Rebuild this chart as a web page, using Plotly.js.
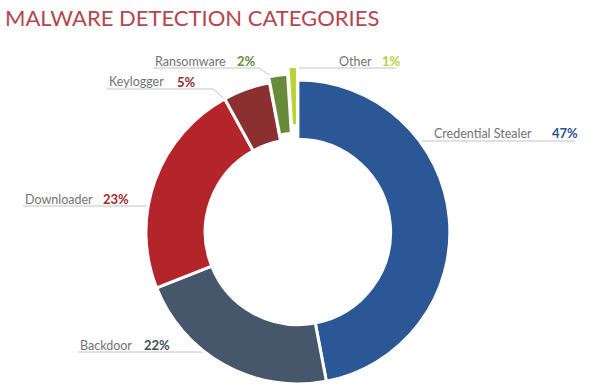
<!DOCTYPE html>
<html><head><meta charset="utf-8">
<script src="https://cdn.plot.ly/plotly-3.0.1.min.js"></script>
<style>html,body{margin:0;padding:0;background:#fff;overflow:hidden;width:600px;height:390px}#chart{width:600px;height:420px}</style>
</head><body><div id="chart"></div>
<script>
var categories = ['Credential Stealer', 'Backdoor', 'Downloader', 'Keylogger', 'Ransomware', 'Other'];
var percents = [47, 22, 23, 5, 2, 1];
var pctLabels = ['47%', '22%', '23%', '5%', '2%', '1%'];

var sliceColors = ['#2b5797', '#46566b', '#b3242b', '#8c2f30', '#6a8a3b', '#b9d437'];
var pctColors = ['#2d5290', '#434c5c', '#a8282e', '#8c2f30', '#6a8a3b', '#b5d13a'];
var pulls = [0, 0, 0, 0, 0.04, 0.09];

var W = 600, H = 420;
function px(x){ return x / W; }
function py(y){ return 1 - y / H; }

var labelPos = [
  {nx: 432, ny: 133, tx: 550, line: [[408,141],[574,141]]},
  {nx: 78, ny: 345, tx: 142, line: [[78,352],[208,352]]},
  {nx: 23, ny: 199, tx: 101, line: [[23,206],[148,206]]},
  {nx: 107, ny: 82, tx: 175, line: [[107,89],[213,89],[226,100]]},
  {nx: 153, ny: 61, tx: 235, line: [[153,68],[259,68],[271,76]]},
  {nx: 337, ny: 61, tx: 380, line: [[296,68],[396,68]]}
];

var annotations = [];
var shapes = [];
categories.forEach(function(c, i){
  var p = labelPos[i];
  annotations.push({text: c, xref:'paper', yref:'paper', x: px(p.nx), y: py(p.ny),
    xanchor:'left', yanchor:'middle', showarrow:false,
    font:{family:'Lato, sans-serif', size:12.5, color:'#727272'}});
  annotations.push({text: '<b>' + pctLabels[i] + '</b>', xref:'paper', yref:'paper', x: px(p.tx), y: py(p.ny),
    xanchor:'left', yanchor:'middle', showarrow:false,
    font:{family:'Lato, sans-serif', size:13, color:pctColors[i]}});
  var path = p.line.map(function(pt, k){ return (k ? 'L' : 'M') + px(pt[0]) + ',' + py(pt[1]); }).join(' ');
  shapes.push({type:'path', xref:'paper', yref:'paper', path: path,
    line:{color:'#c3c3cb', width:1}, layer:'below'});
});

var trace = {
  type: 'pie',
  labels: categories,
  values: percents,
  sort: false,
  direction: 'clockwise',
  rotation: 0,
  hole: 0.61,
  pull: pulls,
  textinfo: 'none',
  hoverinfo: 'label+percent',
  marker: {colors: sliceColors, line: {color: '#ffffff', width: 3}},
  domain: {x: [0.21, 0.783], y: [0.0533, 0.8420]},
  showlegend: false
};

var layout = {
  width: W, height: H,
  margin: {l:0, r:0, t:0, b:0},
  paper_bgcolor: '#ffffff',
  title: {text: 'MALWARE DETECTION CATEGORIES', x: 5/W, xanchor: 'left', xref:'container',
    y: 1 - 18/H, yanchor: 'middle', yref:'container',
    font: {family: 'Lato, sans-serif', size: 22, color: '#b3464f'}},
  annotations: annotations,
  shapes: shapes,
  showlegend: false
};

Plotly.newPlot('chart', [trace], layout, {displayModeBar: false, staticPlot: true});
</script></body></html>
